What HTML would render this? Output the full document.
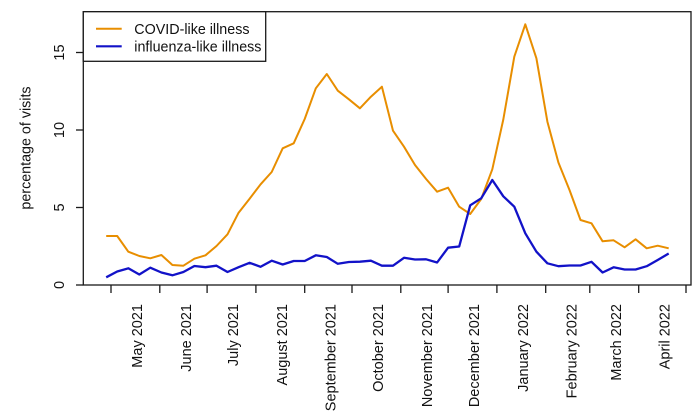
<!DOCTYPE html>
<html>
<head>
<meta charset="utf-8">
<style>
  html, body { margin: 0; padding: 0; background: #ffffff; }
  body { width: 700px; height: 420px; overflow: hidden; }
  svg { display: block; }
  text { font-family: "Liberation Sans", Arial, sans-serif; fill: #111; }
</style>
</head>
<body>
<svg width="700" height="420" viewBox="0 0 700 420" xmlns="http://www.w3.org/2000/svg">
  <rect x="0" y="0" width="700" height="420" fill="#ffffff"/>

  <!-- series -->
  <polyline fill="none" stroke="#E88E00" stroke-width="2" stroke-linejoin="round"
    points="106.2,236 117.2,236 128.3,251.7 139.3,256 150.3,258.3 161.4,255 172.4,265 183.4,265.7 194.4,258.7 205.5,255.3 216.5,246 227.5,234.3 238.6,212.7 249.6,198.7 260.6,184.3 271.7,172 282.7,148.3 293.7,143.3 304.7,119 315.8,88.3 326.8,74 337.8,90.7 348.9,99.3 359.9,108.3 370.9,96.7 381.9,86.7 393,130.7 404,146.7 415,165 426.1,179 437.1,191.7 448.1,187.7 459.2,206.7 470.2,214 481.2,199 492.3,169.3 503.3,119.5 514.3,56.7 525.3,24.3 536.4,58.3 547.4,121.7 558.4,162.5 569.5,190 580.5,220 591.5,223.3 602.6,241.3 613.6,240.3 624.6,247.3 635.6,239.3 646.7,248.3 657.7,245.7 668.7,248.3"/>
  <polyline fill="none" stroke="#1212C8" stroke-width="2.3" stroke-linejoin="round"
    points="106.2,277.3 117.2,271.5 128.3,268.3 139.3,274.5 150.3,267.7 161.4,272.5 172.4,275.3 183.4,272 194.4,266 205.5,267.2 216.5,265.7 227.5,272 238.6,267.2 249.6,262.8 260.6,266.8 271.7,260.7 282.7,264.5 293.7,261 304.7,261 315.8,255.3 326.8,257 337.8,263.8 348.9,262 359.9,261.7 370.9,260.7 381.9,265.7 393,265.7 404,257.8 415,259.5 426.1,259.3 437.1,262.5 448.1,247.7 459.2,246.5 470.2,205.3 481.2,198.3 492.3,180 503.3,196.3 514.3,206.7 525.3,233.3 536.4,251.7 547.4,263.3 558.4,266.2 569.5,265.5 580.5,265.5 591.5,261.8 602.6,272.5 613.6,267.3 624.6,269.5 635.6,269.5 646.7,266.2 657.7,260 668.7,253.5"/>

  <!-- plot box -->
  <rect x="83.3" y="11.7" width="607.7" height="273.3" fill="none" stroke="#1a1a1a" stroke-width="1.3"/>

  <!-- y ticks -->
  <g stroke="#1a1a1a" stroke-width="1.3">
    <line x1="76" y1="285" x2="83.3" y2="285"/>
    <line x1="76" y1="207.5" x2="83.3" y2="207.5"/>
    <line x1="76" y1="130" x2="83.3" y2="130"/>
    <line x1="76" y1="52.5" x2="83.3" y2="52.5"/>
  </g>
  <g font-size="14.5" text-anchor="middle">
    <text transform="translate(64,285) rotate(-90)">0</text>
    <text transform="translate(64,207.5) rotate(-90)">5</text>
    <text transform="translate(64,130) rotate(-90)">10</text>
    <text transform="translate(64,52.5) rotate(-90)">15</text>
  </g>
  <text font-size="14.3" text-anchor="middle" transform="translate(30.5,148) rotate(-90)">percentage of visits</text>

  <!-- x ticks -->
  <g stroke="#1a1a1a" stroke-width="1.3">
    <line x1="111" y1="285" x2="111" y2="293"/>
    <line x1="159.8" y1="285" x2="159.8" y2="293"/>
    <line x1="207.1" y1="285" x2="207.1" y2="293"/>
    <line x1="255.9" y1="285" x2="255.9" y2="293"/>
    <line x1="304.7" y1="285" x2="304.7" y2="293"/>
    <line x1="352" y1="285" x2="352" y2="293"/>
    <line x1="400.8" y1="285" x2="400.8" y2="293"/>
    <line x1="448.1" y1="285" x2="448.1" y2="293"/>
    <line x1="496.9" y1="285" x2="496.9" y2="293"/>
    <line x1="545.7" y1="285" x2="545.7" y2="293"/>
    <line x1="589.8" y1="285" x2="589.8" y2="293"/>
    <line x1="638.7" y1="285" x2="638.7" y2="293"/>
    <line x1="686" y1="285" x2="686" y2="293"/>
  </g>
  <g font-size="14.5" text-anchor="end">
    <text transform="translate(142,304) rotate(-90)">May 2021</text>
    <text transform="translate(190.8,304) rotate(-90)">June 2021</text>
    <text transform="translate(238.1,304) rotate(-90)">July 2021</text>
    <text transform="translate(286.9,304) rotate(-90)">August 2021</text>
    <text transform="translate(335.7,304) rotate(-90)">September 2021</text>
    <text transform="translate(383,304) rotate(-90)">October 2021</text>
    <text transform="translate(431.8,304) rotate(-90)">November 2021</text>
    <text transform="translate(479.1,304) rotate(-90)">December 2021</text>
    <text transform="translate(527.9,304) rotate(-90)">January 2022</text>
    <text transform="translate(576.7,304) rotate(-90)">February 2022</text>
    <text transform="translate(620.8,304) rotate(-90)">March 2022</text>
    <text transform="translate(669.7,304) rotate(-90)">April 2022</text>
  </g>

  <!-- legend -->
  <rect x="83.3" y="11.7" width="182.4" height="49.6" fill="#ffffff" stroke="#1a1a1a" stroke-width="1.3"/>
  <line x1="96" y1="28.7" x2="121.7" y2="28.7" stroke="#E88E00" stroke-width="2"/>
  <line x1="96" y1="46.3" x2="121.7" y2="46.3" stroke="#1212C8" stroke-width="2.2"/>
  <text x="134.3" y="34" font-size="14.3">COVID-like illness</text>
  <text x="134.3" y="51.5" font-size="14.3">influenza-like illness</text>
</svg>
</body>
</html>
